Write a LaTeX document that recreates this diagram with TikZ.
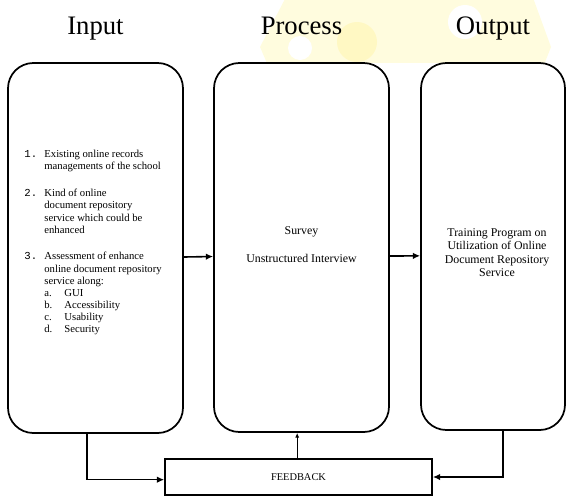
\documentclass[tikz,border=0pt]{standalone}
\usepackage{fontspec}
\setmainfont{Liberation Serif}
\newfontfamily\numfont{Liberation Mono}
\usepackage{tikz}
\usetikzlibrary{arrows.meta}
\usepackage{xcolor}
\definecolor{wmyellow}{RGB}{255,252,222}
\definecolor{wmgold}{RGB}{255,248,195}
\newcommand{\inum}[1]{\makebox[15pt][l]{\numfont #1}}
\newcommand{\isub}[1]{\hspace*{15pt}\makebox[15pt][l]{#1}}
\newcommand{\icont}{\hspace*{15pt}}

\begin{document}
\begin{tikzpicture}[x=0.75pt, y=-0.75pt,
  stagebox/.style={draw, fill=white, line width=1.3pt, rounded corners=19pt, inner sep=0pt},
  fbbox/.style={draw, fill=white, line width=1.3pt, inner sep=0pt, font=\fontsize{7.8}{9}\selectfont},
  title/.style={font=\fontsize{20}{24}\selectfont, anchor=base, inner sep=0pt},
  boxtext/.style={align=center, inner sep=0pt, font=\fontsize{8.9}{10}\selectfont},
  listtext/.style={align=left, inner sep=0pt, font=\fontsize{8}{9.1}\selectfont},
  flow/.style={line width=1.2pt, -{Latex[length=5.5pt, width=5pt]}},
  thinflow/.style={line width=0.7pt, -{Latex[length=3.5pt, width=3pt]}}]
\useasboundingbox (0,0) rectangle (566,497);

% faint logo behind the headings
\begin{scope}
\clip (0,0) rectangle (566,62);
\fill[wmyellow] (287,-5) -- (260,47) -- (272,75) -- (540,75) -- (551,47) -- (532,-5) -- cycle;
\fill[wmgold] (357,42) circle (20);
\fill[white] (465,22) circle (17);
\fill[white] (300,48) circle (12);
\end{scope}

% headings
\node[title] (tin) at (95.5,34) {Input};
\node[title] (tproc) at (301.5,34) {Process};
\node[title] (tout) at (493,34) {Output};

% the three stages
\node[stagebox, minimum width=131.25pt, minimum height=277.5pt] (inbox) at (95.5,248) {};
\node[stagebox, minimum width=131.25pt, minimum height=276.75pt] (procbox) at (301.5,247.5) {};
\node[stagebox, minimum width=108pt, minimum height=275.25pt] (outbox) at (493,246.5) {};

% feedback bar
\node[fbbox, minimum width=200.25pt, minimum height=27pt] (feedback) at (298.5,477) {FEEDBACK};

% texts of the stages
\node[listtext, anchor=north west] (inlist) at ([xshift=12.75pt, yshift=-66pt]inbox.north west) {%
\inum{1.}Existing online records\\
\icont managements of the school\\[11pt]
\inum{2.}Kind of online\\
\icont document repository\\
\icont service which could be\\
\icont enhanced\\[11pt]
\inum{3.}Assessment of enhance\\
\icont online document repository\\
\icont service along:\\
\isub{a.}GUI\\
\isub{b.}Accessibility\\
\isub{c.}Usability\\
\isub{d.}Security};

\node[boxtext] (proctext) at ([yshift=2pt]procbox.center) {Survey\\[11pt]Unstructured Interview};

\node[boxtext] (outtext) at ([xshift=3pt, yshift=-4.5pt]outbox.center) {Training Program on\\
Utilization of Online\\
Document Repository\\
Service};

% connectors
\draw[flow] ([yshift=-6.75pt]inbox.east) -- ([yshift=-6.75pt]procbox.west);
\draw[flow] ([yshift=-6.4pt]procbox.east) -- ([yshift=-7pt]outbox.west);
\draw[thinflow] ([xshift=-1pt]feedback.north) -- ([xshift=-1pt]feedback.north |- procbox.south);
\draw[flow] ([xshift=-6.4pt]inbox.south) |- ([yshift=-2pt]feedback.west);
\draw[flow] ([xshift=7.5pt]outbox.south) |- (feedback.east);
\end{tikzpicture}
\end{document}
